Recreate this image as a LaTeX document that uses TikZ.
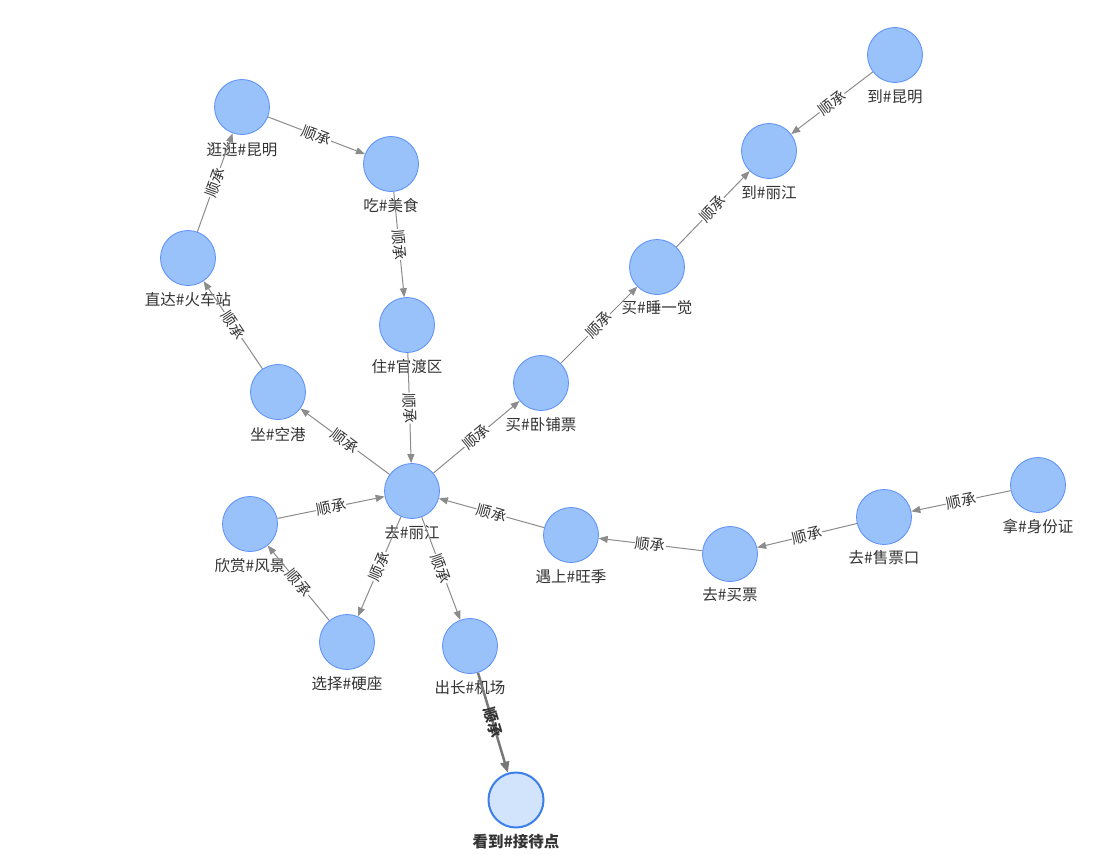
\documentclass[tikz,border=0pt]{standalone}
\usepackage{fontspec}
\setmainfont{Noto Sans CJK SC}
\usetikzlibrary{arrows.meta,calc}
\definecolor{nfill}{RGB}{153,193,250}
\definecolor{nstroke}{RGB}{91,143,249}
\definecolor{hfill}{RGB}{209,228,252}
\definecolor{hstroke}{RGB}{61,127,234}
\definecolor{ecol}{RGB}{140,140,140}
\definecolor{hecol}{RGB}{120,120,120}
\definecolor{txt}{RGB}{51,51,51}
\begin{document}
\begin{tikzpicture}[x=1pt,y=-1pt,
  nd/.style={circle,draw=nstroke,fill=nfill,line width=0.8pt,minimum size=55pt,inner sep=0pt},
  hl/.style={circle,draw=hstroke,fill=hfill,line width=2pt,minimum size=55pt,inner sep=0pt},
  lbl/.style={font=\fontsize{15.5}{17}\selectfont,text=txt,inner sep=0pt},
  conn/.style={draw=ecol,line width=1pt,-{Triangle[length=9pt,width=7pt]}},
  hconn/.style={draw=hecol,line width=2.5pt,-{Triangle[length=11pt,width=9pt]}},
  el/.style={midway,sloped,fill=white,inner sep=0.5pt,font=\fontsize{15}{17}\selectfont,text=txt},
  hel/.style={midway,sloped,inner sep=0.5pt,font=\fontsize{15}{17}\selectfont\bfseries,text=txt},
]
\useasboundingbox[fill=white] (0,0) rectangle (1118,854);

% nodes
\node[nd] (dkm) at (895,55) {};
\node[nd] (dlj) at (769,151) {};
\node[nd] (sjj) at (657,267) {};
\node[nd] (wpp) at (541,383) {};
\node[nd] (ggkm) at (242,107) {};
\node[nd] (cms) at (391,164) {};
\node[nd] (zdhcz) at (188,258) {};
\node[nd] (gdq) at (407,325) {};
\node[nd] (zkg) at (278,392) {};
\node[nd] (qlj) at (412,491) {};
\node[nd] (xsfj) at (250,524) {};
\node[nd] (yswj) at (571,535) {};
\node[nd] (qmp) at (730,554) {};
\node[nd] (qspk) at (884,517) {};
\node[nd] (nsfz) at (1038,485) {};
\node[nd] (xzyz) at (347,642) {};
\node[nd] (cjc) at (470,646) {};
\node[hl] (kjdd) at (516,800) {};

% labels
\node[lbl] (dkmL) at (895,97) {到\#昆明};
\node[lbl] (dljL) at (769,193) {到\#丽江};
\node[lbl] (sjjL) at (657,308) {买\#睡一觉};
\node[lbl] (wppL) at (541,425) {买\#卧铺票};
\node[lbl] (ggkmL) at (242,150) {逛逛\#昆明};
\node[lbl] (cmsL) at (391,206) {吃\#美食};
\node[lbl] (zdhczL) at (188,300) {直达\#火车站};
\node[lbl] (gdqL) at (407,367) {住\#官渡区};
\node[lbl] (zkgL) at (278,434) {坐\#空港};
\node[lbl] (qljL) at (412,533) {去\#丽江};
\node[lbl] (xsfjL) at (250,566) {欣赏\#风景};
\node[lbl] (yswjL) at (571,577) {遇上\#旺季};
\node[lbl] (qmpL) at (730,595) {去\#买票};
\node[lbl] (qspkL) at (884,558) {去\#售票口};
\node[lbl] (nsfzL) at (1038,527) {拿\#身份证};
\node[lbl] (xzyzL) at (347,684) {选择\#硬座};
\node[lbl] (cjcL) at (470,688) {出长\#机场};
\node[lbl,font=\fontsize{15.5}{17}\selectfont\bfseries] (kjddL) at (516,842) {看到\#接待点};

% edges
\draw[conn] (dkm) -- node[el]{顺承} (dlj);
\draw[conn] (sjj) -- node[el]{顺承} (dlj);
\draw[conn] (wpp) -- node[el]{顺承} (sjj);
\draw[conn] (qlj) -- node[el]{顺承} (wpp);
\draw[conn] (ggkm) -- node[el]{顺承} (cms);
\draw[conn] (cms) -- node[el]{顺承} (gdq);
\draw[conn] (gdq) -- node[el]{顺承} (qlj);
\draw[conn] (zdhcz) -- node[el]{顺承} (ggkm);
\draw[conn] (zkg) -- node[el]{顺承} (zdhcz);
\draw[conn] (qlj) -- node[el]{顺承} (zkg);
\draw[conn] (xsfj) -- node[el]{顺承} (qlj);
\draw[conn] (yswj) -- node[el]{顺承} (qlj);
\draw[conn] (qmp) -- node[el]{顺承} (yswj);
\draw[conn] (qspk) -- node[el]{顺承} (qmp);
\draw[conn] (nsfz) -- node[el]{顺承} (qspk);
\draw[conn] (qlj) -- node[el]{顺承} (xzyz);
\draw[conn] (xzyz) -- node[el]{顺承} (xsfj);
\draw[conn] (qlj) -- node[el]{顺承} (cjc);
\draw[hconn] (cjc) -- node[hel]{顺承} (kjdd);
\end{tikzpicture}
\end{document}
